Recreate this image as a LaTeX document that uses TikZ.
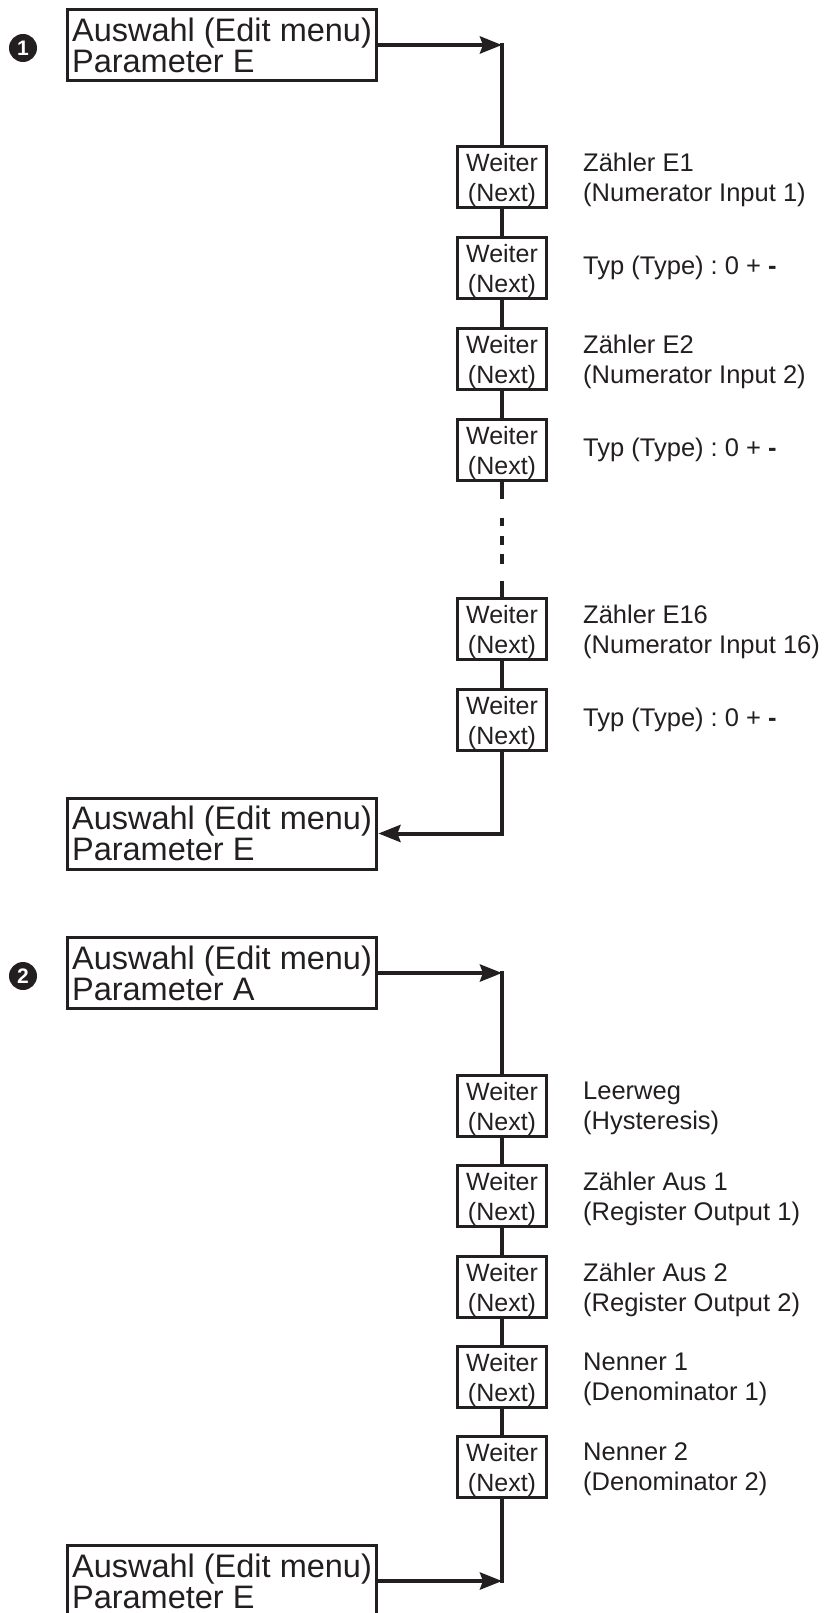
\documentclass[tikz,border=0pt]{standalone}
\usepackage{fontspec}
\setmainfont{Liberation Sans}
\usetikzlibrary{arrows.meta}
\definecolor{ink}{HTML}{231F20}
\frenchspacing
\tikzset{
  menubox/.style={draw=ink, line width=3pt, minimum width=305pt, minimum height=71pt,
    inner xsep=5pt, align=left, font=\fontsize{32.5}{31}\selectfont, text=ink},
  nextbox/.style={draw=ink, line width=2.7pt, minimum width=89pt, minimum height=61pt,
    inner sep=0pt, align=center, font=\fontsize{25}{30}\selectfont, text depth=0pt, text=ink},
  note/.style={anchor=west, align=left, inner sep=0pt, font=\fontsize{25.5}{30}\selectfont, text=ink},
  note2/.style={note, text depth=0pt},
  badge/.style={circle, fill=ink, text=white, minimum size=28pt, inner sep=0pt,
    font=\bfseries\fontsize{21}{21}\selectfont},
  link/.style={draw=ink, line width=4pt, line join=miter},
  flow/.style={link, -{Stealth[length=22pt, width=17pt, inset=3pt]}},
}
\newcommand{\typline}{Typ (Type) : 0 + \textbf{-}}
\begin{document}
\begin{tikzpicture}[x=1pt, y=-1pt]
\fill[white] (0,0) rectangle (825,1613);
\clip (0,0) rectangle (825,1613);

% ---- part 1: parameter group E ----
\node[badge] (n1) at (23,48) {1};
\node[menubox] (E1) at (222,45) {Auswahl (Edit menu)\\Parameter E};

\node[nextbox] (b1) at (502,177) {Weiter\\(Next)};
\node[nextbox] (b2) at (502,268) {Weiter\\(Next)};
\node[nextbox] (b3) at (502,359) {Weiter\\(Next)};
\node[nextbox] (b4) at (502,450) {Weiter\\(Next)};
\node[nextbox] (b5) at (502,629) {Weiter\\(Next)};
\node[nextbox] (b6) at (502,720) {Weiter\\(Next)};

\node[note2] (l1) at (583,177) {Zähler E1\\(Numerator Input 1)};
\node[note]  (l2) at (583,268) {\typline};
\node[note2] (l3) at (583,359) {Zähler E2\\(Numerator Input 2)};
\node[note]  (l4) at (583,450) {\typline};
\node[note2] (l5) at (583,629) {Zähler E16\\(Numerator Input 16)};
\node[note]  (l6) at (583,720) {\typline};

\node[menubox] (E1b) at (222,833.5) {Auswahl (Edit menu)\\Parameter E};

\coordinate (t1) at (E1.east -| b1.center);
\draw[flow] (E1.east) -- (t1);
\draw[link] ([yshift=2pt]t1) -- (b1.north);
\draw[link] (b1.south) -- (b2.north);
\draw[link] (b2.south) -- (b3.north);
\draw[link] (b3.south) -- (b4.north);
\draw[link, dash pattern=on 17pt off 19pt on 8pt off 10pt on 9pt off 9pt on 10pt off 17pt on 20pt]
  (b4.south) -- (b5.north);
\draw[link] (b5.south) -- (b6.north);
\draw[flow] (b6.south) |- (E1b.east);

% ---- part 2: parameter group A ----
\node[badge] (n2) at (23,976) {2};
\node[menubox] (A) at (222,973) {Auswahl (Edit menu)\\Parameter A};

\node[nextbox] (c1) at (502,1106) {Weiter\\(Next)};
\node[nextbox] (c2) at (502,1196) {Weiter\\(Next)};
\node[nextbox] (c3) at (502,1287) {Weiter\\(Next)};
\node[nextbox] (c4) at (502,1377) {Weiter\\(Next)};
\node[nextbox] (c5) at (502,1467) {Weiter\\(Next)};

\node[note2] (m1) at (583,1106) {Leerweg\\(Hysteresis)};
\node[note2] (m2) at (583,1196) {Zähler Aus 1\\(Register Output 1)};
\node[note2] (m3) at (583,1287) {Zähler Aus 2\\(Register Output 2)};
\node[note2] (m4) at (583,1377) {Nenner 1\\(Denominator 1)};
\node[note2] (m5) at (583,1467) {Nenner 2\\(Denominator 2)};

\node[menubox] (E2b) at (222,1581) {Auswahl (Edit menu)\\Parameter E};

\coordinate (t2) at (A.east -| c1.center);
\draw[flow] (A.east) -- (t2);
\draw[link] ([yshift=2pt]t2) -- (c1.north);
\draw[link] (c1.south) -- (c2.north);
\draw[link] (c2.south) -- (c3.north);
\draw[link] (c3.south) -- (c4.north);
\draw[link] (c4.south) -- (c5.north);
\coordinate (t3) at (E2b.east -| c5.center);
\draw[link] (c5.south) -- ([yshift=-2pt]t3);
\draw[flow] (E2b.east) -- (t3);
\end{tikzpicture}
\end{document}
